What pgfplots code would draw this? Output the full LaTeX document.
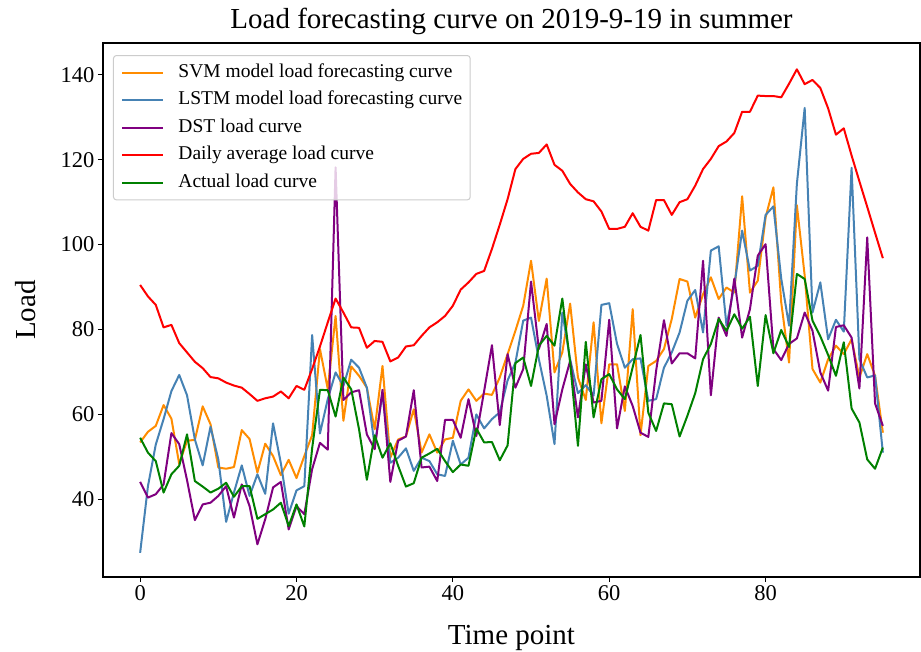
\documentclass[border=0pt]{standalone}
\usepackage{fontspec}
\setmainfont{Liberation Serif}
\usepackage{pgfplots}
\pgfplotsset{compat=1.18}
\definecolor{svm}{RGB}{255,140,0}
\definecolor{lstm}{RGB}{70,130,180}
\definecolor{dst}{RGB}{128,0,128}
\definecolor{avg}{RGB}{255,0,0}
\definecolor{act}{RGB}{0,128,0}
\definecolor{lgray}{RGB}{204,204,204}
\begin{document}
\begin{tikzpicture}
\useasboundingbox (-103pt,-75pt) rectangle (818pt,577pt);
\begin{axis}[
  at={(0,0)}, anchor=south west,
  width=817pt, height=534pt, scale only axis,
  xmin=-4.75, xmax=99.75, ymin=21.7, ymax=147.5,
  xtick={0,20,40,60,80}, ytick={40,60,80,100,120,140},
  xtick pos=bottom, ytick pos=left,
  tick align=outside, major tick length=5pt,
  tick style={line width=1.1pt, black},
  axis line style={line width=1.1pt},
  every tick label/.append style={font=\fontsize{22.5}{26}\selectfont},
  /pgf/number format/assume math mode=true,
  title={Load forecasting curve on 2019-9-19 in summer},
  title style={at={(axis description cs:0.5,1.0150)}, anchor=base, font=\fontsize{29}{34}\selectfont},
  xlabel={Time point},
  xlabel style={at={(axis description cs:0.5,-0.1273)}, anchor=base, font=\fontsize{29}{34}\selectfont},
  ylabel={Load},
  ylabel style={at={(axis description cs:-0.0832,0.5)}, anchor=base, font=\fontsize{29}{34}\selectfont},
  legend style={at={(axis description cs:0.0122,0.9775)}, anchor=north west,
    draw=lgray, line width=1pt, rounded corners=3pt, fill=white, fill opacity=0.8,
    text opacity=1, draw opacity=1, font=\fontsize{19.5}{23}\selectfont,
    inner xsep=8pt, inner ysep=8pt, row sep=9.6pt, column sep=14pt,
    nodes={inner sep=0pt, text height=13.5pt, text depth=4.5pt}},
  legend cell align=left,
  legend image code/.code={\draw[#1, line width=2pt] (0pt,0pt) -- (41pt,0pt);},
  every axis plot/.append style={line width=2pt, line join=round},
]
\addplot[svm] coordinates {
(0,53.4)(1,55.9)(2,57.3)(3,62.2)(4,59.0)(5,48.3)(6,53.8)(7,54.0)(8,61.9)(9,57.7)
(10,47.5)(11,47.2)(12,47.6)(13,56.3)(14,54.2)(15,46.3)(16,53.1)(17,50.2)(18,45.7)(19,49.3)
(20,45.0)(21,50.2)(22,55.1)(23,75.4)(24,66.0)(25,83.2)(26,58.5)(27,71.3)(28,69.1)(29,66.3)
(30,56.5)(31,71.4)(32,49.8)(33,54.1)(34,54.8)(35,61.2)(36,51.0)(37,55.3)(38,51.0)(39,54.1)
(40,54.5)(41,63.2)(42,65.9)(43,63.2)(44,64.9)(45,64.6)(46,68.7)(47,74.2)(48,79.7)(49,85.6)
(50,96.2)(51,82.0)(52,92.0)(53,69.9)(54,74.6)(55,86.1)(56,68.7)(57,63.4)(58,81.7)(59,57.9)
(60,71.8)(61,71.8)(62,60.8)(63,84.8)(64,55.1)(65,71.4)(66,72.6)(67,75.4)(68,82.5)(69,91.9)
(70,91.3)(71,82.8)(72,88.3)(73,92.3)(74,87.2)(75,89.9)(76,88.7)(77,111.4)(78,88.7)(79,91.5)
(80,106.4)(81,113.5)(82,86.4)(83,72.2)(84,109.3)(85,92.7)(86,70.7)(87,67.5)(88,73.0)(89,76.2)
(90,74.2)(91,77.7)(92,68.7)(93,74.2)(94,69.1)(95,55.7)};
\addlegendentry{SVM model load forecasting curve}
\addplot[lstm] coordinates {
(0,27.4)(1,43.1)(2,52.9)(3,58.9)(4,65.5)(5,69.3)(6,64.5)(7,54.1)(8,48.0)(9,57.1)
(10,49.4)(11,34.7)(12,41.6)(13,48.0)(14,40.8)(15,45.9)(16,41.3)(17,57.9)(18,48.5)(19,36.6)
(20,42.1)(21,43.1)(22,78.7)(23,55.5)(24,63.6)(25,69.9)(26,66.7)(27,72.9)(28,71.0)(29,66.3)
(30,52.6)(31,65.0)(32,48.6)(33,49.8)(34,52.0)(35,46.7)(36,49.8)(37,49.0)(38,45.9)(39,45.5)
(40,53.8)(41,48.2)(42,49.8)(43,60.0)(44,56.7)(45,58.9)(46,60.5)(47,68.0)(48,72.2)(49,82.1)
(50,82.8)(51,73.0)(52,64.4)(53,53.0)(54,84.0)(55,73.0)(56,65.0)(57,66.9)(58,64.4)(59,85.8)
(60,86.2)(61,76.6)(62,71.0)(63,73.0)(64,73.2)(65,63.2)(66,63.6)(67,71.0)(68,74.6)(69,79.3)
(70,86.8)(71,89.3)(72,79.3)(73,98.6)(74,99.6)(75,80.9)(76,90.3)(77,103.3)(78,93.9)(79,95.0)
(80,107.0)(81,109.0)(82,92.0)(83,80.9)(84,114.3)(85,132.2)(86,84.0)(87,91.1)(88,77.7)(89,82.3)
(90,79.5)(91,118.1)(92,73.0)(93,68.7)(94,69.2)(95,51.0)};
\addlegendentry{LSTM model load forecasting curve}
\addplot[dst] coordinates {
(0,44.1)(1,40.4)(2,41.2)(3,43.5)(4,55.6)(5,53.0)(6,44.5)(7,35.1)(8,38.8)(9,39.2)
(10,40.8)(11,43.1)(12,35.7)(13,43.5)(14,38.4)(15,29.4)(16,35.3)(17,42.8)(18,44.1)(19,32.9)
(20,38.4)(21,36.5)(22,47.1)(23,53.3)(24,51.7)(25,118.2)(26,63.4)(27,65.2)(28,65.7)(29,55.3)
(30,51.8)(31,65.8)(32,44.1)(33,53.8)(34,54.8)(35,65.7)(36,47.5)(37,47.7)(38,44.3)(39,58.7)
(40,58.7)(41,54.5)(42,63.6)(43,54.9)(44,65.5)(45,76.3)(46,57.5)(47,74.2)(48,66.3)(49,70.7)
(50,91.3)(51,75.4)(52,81.3)(53,57.7)(54,65.9)(55,72.6)(56,59.3)(57,71.8)(58,62.8)(59,63.2)
(60,82.3)(61,56.7)(62,66.6)(63,62.0)(64,55.7)(65,54.7)(66,70.3)(67,82.2)(68,72.0)(69,74.4)
(70,74.4)(71,73.2)(72,96.2)(73,64.5)(74,82.8)(75,78.5)(76,92.0)(77,78.1)(78,84.8)(79,97.4)
(80,100.1)(81,75.4)(82,72.8)(83,76.6)(84,77.9)(85,84.0)(86,79.7)(87,69.9)(88,65.6)(89,80.6)
(90,81.0)(91,78.1)(92,66.1)(93,101.7)(94,62.6)(95,57.3)};
\addlegendentry{DST load curve}
\addplot[avg] coordinates {
(0,90.5)(1,87.8)(2,85.8)(3,80.5)(4,81.1)(5,76.8)(6,74.6)(7,72.4)(8,70.9)(9,68.8)
(10,68.5)(11,67.5)(12,66.8)(13,66.3)(14,64.8)(15,63.2)(16,63.8)(17,64.2)(18,65.4)(19,63.8)
(20,66.7)(21,65.8)(22,70.7)(23,76.0)(24,81.7)(25,87.3)(26,84.0)(27,80.5)(28,80.4)(29,75.7)
(30,77.3)(31,77.1)(32,72.5)(33,73.4)(34,76.0)(35,76.3)(36,78.5)(37,80.5)(38,81.7)(39,83.2)
(40,85.6)(41,89.4)(42,91.1)(43,93.1)(44,93.8)(45,99.0)(46,104.7)(47,110.7)(48,117.8)(49,120.2)
(50,121.4)(51,121.6)(52,123.6)(53,118.8)(54,117.4)(55,114.3)(56,112.3)(57,110.7)(58,110.2)(59,107.8)
(60,103.7)(61,103.7)(62,104.2)(63,107.4)(64,104.2)(65,103.3)(66,110.5)(67,110.5)(68,107.0)(69,110.0)
(70,110.7)(71,113.9)(72,117.8)(73,120.2)(74,123.2)(75,124.3)(76,126.3)(77,131.3)(78,131.3)(79,135.1)
(80,135.0)(81,135.0)(82,134.7)(83,137.9)(84,141.3)(85,137.8)(86,138.8)(87,136.9)(88,132.1)(89,125.9)
(90,127.4)(91,121.0)(92,114.9)(93,108.9)(94,102.8)(95,96.8)};
\addlegendentry{Daily average load curve}
\addplot[act] coordinates {
(0,54.5)(1,51.0)(2,49.0)(3,41.6)(4,45.9)(5,47.9)(6,55.3)(7,44.3)(8,43.0)(9,41.6)
(10,42.5)(11,43.9)(12,40.6)(13,43.1)(14,43.1)(15,35.4)(16,36.5)(17,37.6)(18,39.2)(19,33.7)
(20,38.8)(21,33.6)(22,52.0)(23,65.8)(24,65.7)(25,59.5)(26,68.7)(27,65.9)(28,56.5)(29,44.6)
(30,55.1)(31,49.8)(32,53.2)(33,47.9)(34,43.0)(35,43.8)(36,49.8)(37,50.8)(38,51.9)(39,49.0)
(40,46.4)(41,48.2)(42,47.9)(43,56.7)(44,53.4)(45,53.5)(46,49.2)(47,52.7)(48,72.1)(49,73.4)
(50,66.7)(51,76.2)(52,78.5)(53,76.2)(54,87.3)(55,72.2)(56,52.6)(57,77.1)(58,59.3)(59,68.3)
(60,69.5)(61,65.9)(62,63.6)(63,71.1)(64,78.7)(65,60.4)(66,56.1)(67,62.6)(68,62.4)(69,54.8)
(70,59.7)(71,65.0)(72,73.0)(73,76.6)(74,82.5)(75,79.7)(76,83.6)(77,80.2)(78,83.0)(79,66.7)
(80,83.4)(81,74.4)(82,79.9)(83,75.9)(84,93.1)(85,91.9)(86,82.1)(87,78.4)(88,74.0)(89,69.1)
(90,77.0)(91,61.4)(92,58.1)(93,49.4)(94,47.2)(95,52.2)};
\addlegendentry{Actual load curve}
\end{axis}
\end{tikzpicture}
\end{document}
